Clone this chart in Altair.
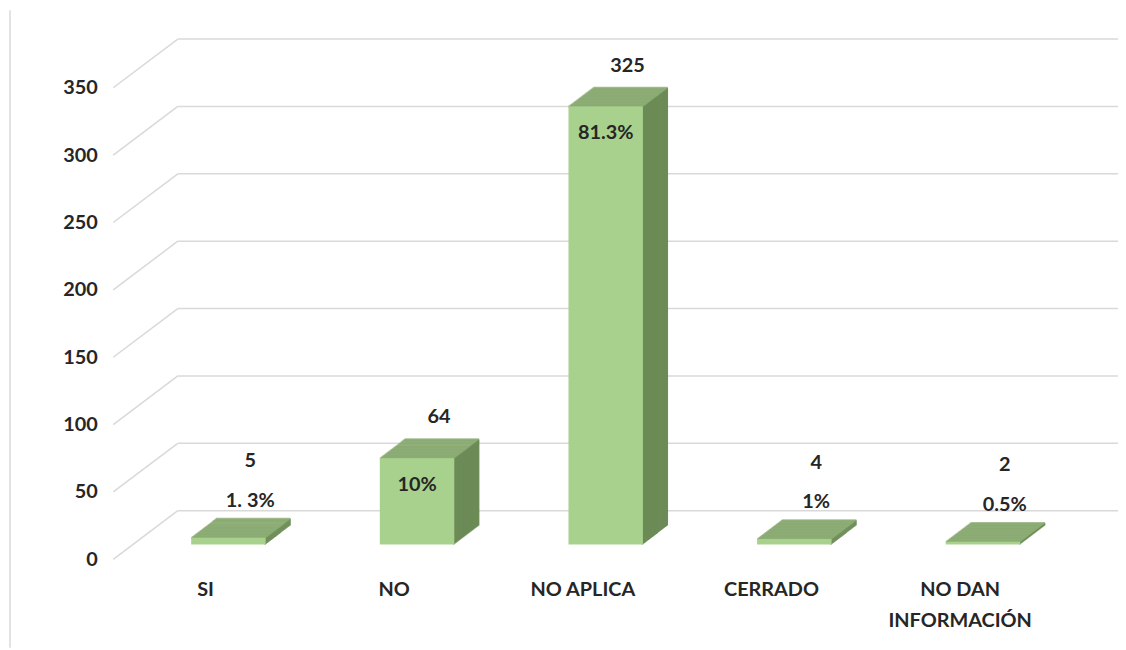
import altair as alt
import pandas as pd

# ---- data ----
categories = ["SI", "NO", "NO APLICA", "CERRADO", "NO DAN INFORMACIÓN"]
counts = [5, 64, 325, 4, 2]
pct_labels = ["1. 3%", "10%", "81.3%", "1%", "0.5%"]
y_ticks = [0, 50, 100, 150, 200, 250, 300, 350]

df = pd.DataFrame({"cat": categories, "value": counts, "pct": pct_labels})
grid_df = pd.DataFrame({"v": y_ticks})
one_df = pd.DataFrame({"a": [0]})

# ---- style ----
FONT = "Lato"
TXT = "#262626"
FRONT = "#A9D18E"
TOP = "#86A86E"
SIDE = "#6C8B56"
GRID = "#D9D9D9"
W, H = 1004, 475
DEPTH_X, DEPTH_Y = 25, 19     # 3D depth of the bars (px)
BAR_W = 75
BAR_DX, BAR_DY = 23, -15      # bar front offset relative to the floor front
WALL_DX, WALL_DY = 65, -49    # depth of the back wall

yscale = alt.Scale(domain=[0, 350], nice=False)
yaxis = alt.Axis(values=y_ticks, grid=False, domain=False, ticks=False, title=None,
                 labelFont=FONT, labelFontSize=20, labelFontWeight="bold",
                 labelColor=TXT, labelPadding=16)
xscale = alt.Scale(domain=categories, paddingInner=0.6053, paddingOuter=0.4447, align=0.3284)
xaxis = alt.Axis(title=None, domain=False, ticks=False, labelAngle=0,
                 labelFont=FONT, labelFontSize=20, labelFontWeight="bold",
                 labelColor=TXT, labelPadding=20, labelLineHeight=32,
                 labelExpr="datum.value == 'NO DAN INFORMACIÓN' ? ['NO DAN', 'INFORMACIÓN'] : datum.label")

X = alt.X("cat:N", sort=categories, scale=xscale, axis=xaxis)
Y = alt.Y("value:Q", scale=yscale, axis=yaxis)
GY = alt.Y("v:Q", scale=yscale, axis=yaxis)

layers = []

# chart frame line on the left
layers.append(alt.Chart(one_df).mark_rule(color=GRID, strokeWidth=1.5).encode(
    x=alt.value(-104), y=alt.value(-78), y2=alt.value(H + 89)))

# gridlines: diagonal floor part and back-wall horizontal part
layers.append(alt.Chart(grid_df).mark_rule(color=GRID, strokeWidth=1.5, y2Offset=WALL_DY).encode(
    x=alt.value(0), x2=alt.value(WALL_DX), y=GY, y2=alt.Y2("v")))
layers.append(alt.Chart(grid_df).mark_rule(color=GRID, strokeWidth=1.5, yOffset=WALL_DY).encode(
    x=alt.value(WALL_DX), x2=alt.value(W + 8), y=GY))

# 3D side faces (swept right edge)
for k in range(DEPTH_X + 1):
    dy = BAR_DY - DEPTH_Y * k / DEPTH_X
    layers.append(alt.Chart(df).mark_rule(
        color=SIDE, strokeWidth=1.6, xOffset=BAR_DX + BAR_W / 2 + k - 0.5,
        yOffset=dy, y2Offset=dy).encode(x=X, y=Y, y2=alt.datum(0)))

# 3D top faces (swept top edge)
for k in range(DEPTH_X + 1):
    dy = BAR_DY - DEPTH_Y * k / DEPTH_X
    layers.append(alt.Chart(df).mark_tick(
        color=TOP, orient="horizontal", size=BAR_W, thickness=2,
        xOffset=BAR_DX + k, yOffset=dy).encode(x=X, y=Y))

# front faces
layers.append(alt.Chart(df).mark_bar(
    color=FRONT, width=BAR_W, xOffset=BAR_DX, yOffset=BAR_DY, y2Offset=BAR_DY).encode(
    x=X, y=Y, y2=alt.datum(0)))

txt = dict(font=FONT, fontSize=20, fontWeight="bold", color=TXT, baseline="middle")
big = "datum.value > 50"
small = "datum.value <= 50"
layers.append(alt.Chart(df).transform_filter(big).mark_text(dx=45, dy=-56, **txt).encode(
    x=X, y=Y, text="value:Q"))
layers.append(alt.Chart(df).transform_filter(small).mark_text(dx=45, dy=-92, **txt).encode(
    x=X, y=Y, text="value:Q"))
layers.append(alt.Chart(df).transform_filter(big).mark_text(dx=BAR_DX, dy=12, **txt).encode(
    x=X, y=Y, text="pct:N"))
layers.append(alt.Chart(df).transform_filter(small).mark_text(dx=45, dy=-52, **txt).encode(
    x=X, y=Y, text="pct:N"))

chart = alt.layer(*layers).properties(
    width=W, height=H,
    autosize=alt.AutoSizeParams(type="none"),
    padding={"left": 106, "top": 78, "right": 8, "bottom": 89},
    background="white",
).configure_view(stroke=None)

chart.save("out.html", embed_options={"renderer": "svg", "actions": False})
